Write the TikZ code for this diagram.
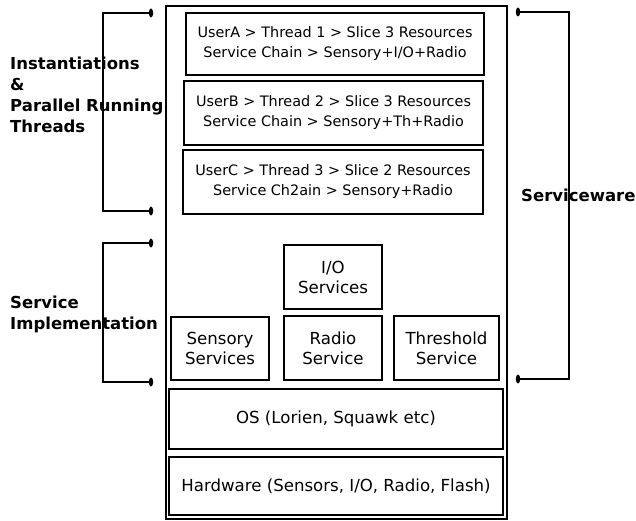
\documentclass[tikz,border=0pt]{standalone}
\usepackage{fontspec}
\setmainfont{DejaVu Sans}
\begin{document}
\begin{tikzpicture}[x=1pt,y=-1pt,
  box/.style={draw,line width=1.8pt,align=center,inner sep=0pt,
    font=\fontsize{16.6}{20}\selectfont},
  thread/.style={box,font=\fontsize{14.4}{20}\selectfont},
  brace/.style={line width=1.8pt},
  side/.style={align=left,anchor=west,inner sep=0pt,
    font=\fontsize{16.5}{21}\selectfont\bfseries}]
\useasboundingbox (0,0) rectangle (636,521);
% outer frame
\node[draw,line width=1.8pt,minimum width=341pt,minimum height=513pt] (frame) at (336.5,262.5) {};
% threads
\node[thread,minimum width=298pt,minimum height=62pt] (ua) at (335,44)
  {UserA > Thread 1 > Slice 3 Resources\\Service Chain > Sensory+I/O+Radio};
\node[thread,minimum width=299pt,minimum height=64pt] (ub) at (333.5,113)
  {UserB > Thread 2 > Slice 3 Resources\\Service Chain > Sensory+Th+Radio};
\node[thread,minimum width=300pt,minimum height=64pt] (uc) at (333,182)
  {UserC > Thread 3 > Slice 2 Resources\\Service Ch2ain > Sensory+Radio};
% services
\node[box,minimum width=98pt,minimum height=64pt] (io) at (333,277) {I/O\\Services};
\node[box,minimum width=98pt,minimum height=63pt] (sens) at (220,348.5) {Sensory\\Services};
\node[box,minimum width=98pt,minimum height=64pt] (radio) at (333,348) {Radio\\Service};
\node[box,minimum width=105pt,minimum height=64pt] (thr) at (446.5,348) {Threshold\\Service};
% platform layers
\node[box,minimum width=334pt,minimum height=60pt] (os) at (336,419) {OS (Lorien, Squawk etc)};
\node[box,line width=2.4pt,minimum width=334pt,minimum height=58pt] (hw) at (336,486) {Hardware (Sensors, I/O, Radio, Flash)};
% bracket end points
\coordinate (a1) at (151,13);
\coordinate (a2) at (151,211);
\coordinate (b1) at (151,243);
\coordinate (b2) at (151,382);
\coordinate (c1) at (518,12);
\coordinate (c2) at (518,379);
\draw[brace] (a1) -| (103,112) |- (a2);
\draw[brace] (b1) -| (103,312) |- (b2);
\draw[brace] (c1) -| (569,195) |- (c2);
\foreach \p in {a1,a2,b1,b2,c1,c2}
  \fill (\p) ellipse (2.2pt and 4.5pt);
% side labels
\node[side] (inst) at (10,94.5) {Instantiations\\\&\\Parallel Running\\Threads};
\node[side] (impl) at (10,314.5) {Service\\Implementation};
\node[side] (sw) at (521,195) {Serviceware};
\end{tikzpicture}
\end{document}
